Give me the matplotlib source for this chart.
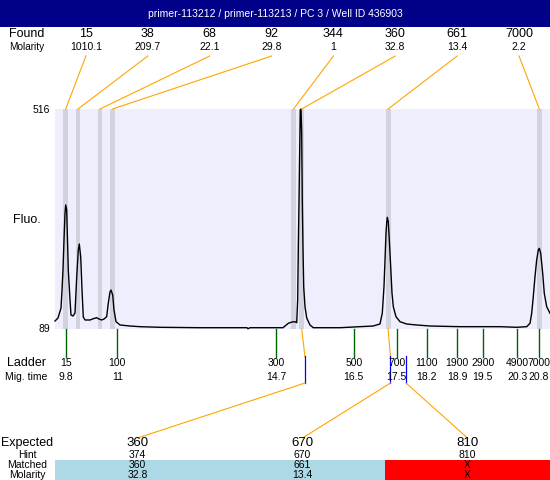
import matplotlib
matplotlib.use('Agg')
import matplotlib.pyplot as plt
from matplotlib.patches import Rectangle

plt.rcParams['font.family'] = ['Liberation Sans', 'DejaVu Sans']

# ---------------- data ----------------
title = "primer-113212 / primer-113213 / PC 3 / Well ID 436903"

found_sizes = ["15", "38", "68", "92", "344", "360", "661", "7000"]
found_molarity = ["1010.1", "209.7", "22.1", "29.8", "1", "32.8", "13.4", "2.2"]
found_times = [9.80, 10.086, 10.598, 10.888, 15.098, 15.288, 17.298, 20.814]

ladder_sizes = ["15", "100", "300", "500", "700", "1100", "1900", "2900", "4900", "7000"]
ladder_times = [9.8, 11.0, 14.7, 16.5, 17.5, 18.2, 18.9, 19.5, 20.3, 20.8]

expected = ["360", "670", "810"]
hint = ["374", "670", "810"]
matched = ["360", "661", "X"]
matched_molarity = ["32.8", "13.4", "X"]
hint_times = [15.365, 17.353, 17.714]
matched_peak = [5, 6, None]

fluo_min, fluo_max = 89, 516
time_min, time_max = 9.551, 21.063

trace_time = [9.551, 9.621, 9.691, 9.714, 9.737, 9.760, 9.784, 9.800, 9.823, 9.860,
              9.900, 9.923, 9.970, 10.016, 10.056, 10.093, 10.116, 10.149, 10.179, 10.209,
              10.249, 10.365, 10.458, 10.521, 10.574, 10.637, 10.691, 10.753, 10.791, 10.830,
              10.853, 10.893, 10.923, 10.970, 11.063, 11.295, 11.528, 11.993, 12.923, 14.016,
              14.040, 14.086, 14.853, 14.977, 15.063, 15.133, 15.172, 15.195, 15.209, 15.226,
              15.242, 15.256, 15.272, 15.288, 15.302, 15.319, 15.335, 15.365, 15.405, 15.481,
              15.558, 16.179, 16.644, 16.947, 17.109, 17.163, 17.202, 17.226, 17.249, 17.265,
              17.279, 17.302, 17.326, 17.358, 17.388, 17.419, 17.481, 17.574, 17.730, 17.963,
              18.272, 18.970, 19.900, 20.288, 20.521, 20.598, 20.637, 20.674, 20.714, 20.753,
              20.791, 20.814, 20.847, 20.893, 20.930, 20.986, 21.063]
trace_fluo = [104.5, 110.4, 129.8, 164.7, 203.5, 261.7, 314.2, 329.7, 320.0, 203.5,
              145.3, 116.2, 114.2, 120.1, 189.9, 242.3, 254.0, 228.8, 164.7, 112.3,
              106.5, 106.5, 109.4, 110.9, 108.4, 106.5, 108.4, 112.9, 139.5, 160.8,
              164.7, 155.0, 125.9, 103.2, 96.8, 94.8, 93.5, 92.3, 91.5, 91.5,
              89.5, 91.5, 91.5, 100.1, 102.6, 103.2, 101.2, 145.3, 242.3, 339.4,
              436.4, 514.0, 516.0, 469.4, 339.4, 242.3, 171.1, 132.3, 110.4, 96.8,
              91.5, 91.5, 93.5, 94.8, 98.7, 120.1, 171.1, 222.9, 275.3, 294.7,
              305.8, 297.3, 261.7, 209.9, 158.9, 132.3, 112.9, 103.2, 98.7, 96.8,
              94.8, 93.5, 93.5, 92.3, 93.5, 100.1, 119.5, 151.7, 190.5, 222.9,
              242.3, 245.6, 235.9, 197.1, 158.3, 132.3, 119.5]

# ---------------- figure ----------------
W, H = 550, 480
fig = plt.figure(figsize=(W / 100, H / 100), dpi=100)
fig.patch.set_facecolor('white')

PL, PR, PT, PB = 55, 550, 109, 329
ax = fig.add_axes([PL / W, (H - PB) / H, (PR - PL) / W, (PB - PT) / H])
ax.set_facecolor('#EEEEFC')
ax.set_xlim(time_min, time_max)
ax.set_ylim(fluo_min, fluo_max)
for s in ax.spines.values():
    s.set_visible(False)
ax.set_xticks([])
ax.set_yticks([])
for t in found_times:
    ax.axvspan(t - 0.056, t + 0.056, color='#D3D3E0', lw=0, zorder=1)
ax.plot(trace_time, trace_fluo, color='black', lw=1.0, zorder=3, clip_on=False)

ov = fig.add_axes([0, 0, 1, 1], zorder=5)
ov.set_xlim(0, W)
ov.set_ylim(H, 0)
ov.axis('off')
ov.patch.set_alpha(0)


def tx(t):
    return ax.transData.transform((t, fluo_min))[0]


orange = '#FFA500'

# title bar
ov.add_patch(Rectangle((0, 0), W, 27, color='#000088', lw=0))
ov.text(W / 2, 14, title, color='white', ha='center', va='center', fontsize=7.5)

# Found row
ov.text(27, 34, "Found", ha='center', va='center', fontsize=9)
ov.text(27, 47, "Molarity", ha='center', va='center', fontsize=7.2)
colw = (PR - PL) / len(found_sizes)
for i, (s, m, t) in enumerate(zip(found_sizes, found_molarity, found_times)):
    cx = PL + colw * (i + 0.5)
    ov.text(cx, 34, s, ha='center', va='center', fontsize=9)
    ov.text(cx, 47, m, ha='center', va='center', fontsize=7.5)
    ov.plot([cx, tx(t)], [56, PT], color=orange, lw=0.8)

# y labels
ov.text(50, PT + 1, str(fluo_max), ha='right', va='center', fontsize=7.5)
ov.text(50, PB, str(fluo_min), ha='right', va='center', fontsize=7.5)
ov.text(27, 220, "Fluo.", ha='center', va='center', fontsize=9)

# ladder
ov.text(26, 363, "Ladder", ha='center', va='center', fontsize=9)
ov.text(26, 377, "Mig. time", ha='center', va='center', fontsize=7.5)
for s, t in zip(ladder_sizes, ladder_times):
    x = tx(t)
    ov.plot([x, x], [PB, 357], color='#006400', lw=1)
    ov.text(x, 363, s, ha='center', va='center', fontsize=7.5)
    ov.text(x, 377, f"{t:g}", ha='center', va='center', fontsize=7.5)

# expected connectors
ecolw = (PR - PL) / len(expected)
for j, (ht, pk) in enumerate(zip(hint_times, matched_peak)):
    hx = tx(ht)
    ex = PL + ecolw * (j + 0.5)
    if pk is not None:
        ov.plot([tx(found_times[pk]), hx], [PB, 357], color=orange, lw=0.8)
    ov.plot([hx, hx], [356, 383], color='blue', lw=0.9)
    ov.plot([hx, ex], [383, 438], color=orange, lw=0.8)

# table
ov.text(27, 443, "Expected", ha='center', va='center', fontsize=9)
ov.text(27, 455, "Hint", ha='center', va='center', fontsize=7.5)
ov.text(27, 465.5, "Matched", ha='center', va='center', fontsize=7.5)
ov.text(27, 475, "Molarity", ha='center', va='center', fontsize=7.5)
for j in range(len(expected)):
    x0 = PL + ecolw * j
    cx = x0 + ecolw / 2
    color = '#ADD8E6' if matched[j] != "X" else '#FF0000'
    ov.add_patch(Rectangle((x0, 460), ecolw, 20, color=color, lw=0))
    ov.text(cx, 443, expected[j], ha='center', va='center', fontsize=9.5)
    ov.text(cx, 455, hint[j], ha='center', va='center', fontsize=7.5)
    ov.text(cx, 465.5, matched[j], ha='center', va='center', fontsize=7.5)
    ov.text(cx, 475, matched_molarity[j], ha='center', va='center', fontsize=7.5)

fig.savefig('out.png', dpi=100)
